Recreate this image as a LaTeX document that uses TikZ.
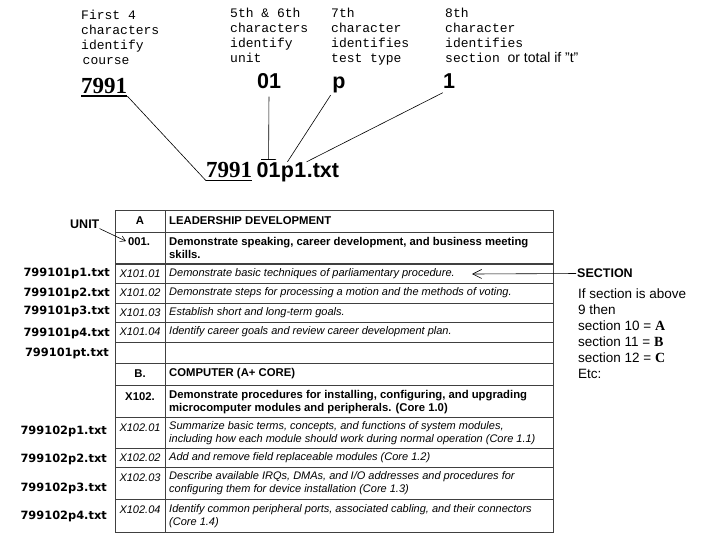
\documentclass[tikz,border=0pt]{standalone}
\usepackage{fontspec}
\setmainfont{Liberation Serif}
\setsansfont{Liberation Sans}
\setmonofont{Liberation Mono}
\newfontfamily\dejavu{DejaVu Sans}
\usetikzlibrary{arrows.meta,positioning}

\begin{document}
\begin{tikzpicture}[x=1pt,y=-1pt,
  hint/.style={font=\ttfamily\fontsize{13}{15}\selectfont,align=left,anchor=north west,inner sep=0pt},
  digits/.style={font=\sffamily\bfseries\fontsize{21.5}{21.5}\selectfont,inner sep=0pt,text height=15.5pt,text depth=4.5pt},
  course/.style={font=\rmfamily\bfseries\fontsize{23}{23}\selectfont,inner xsep=0pt,inner ysep=3pt,text height=16pt,text depth=0pt},
  uline/.style={line width=1.5pt},
  link/.style={line width=0.6pt},
  tablerule/.style={draw=black!75,line width=0.8pt},
  subcode/.style={font=\sffamily\itshape\fontsize{11}{12.5}\selectfont,inner sep=0pt},
  unitcode/.style={font=\sffamily\bfseries\fontsize{11.3}{12.5}\selectfont,inner sep=0pt},
  desc/.style={font=\sffamily\itshape\fontsize{11}{12.5}\selectfont,align=left,anchor=west,inner sep=0pt},
  descb/.style={font=\sffamily\bfseries\fontsize{11.3}{12.5}\selectfont,align=left,anchor=west,inner sep=0pt},
  fname/.style={font=\dejavu\bfseries\fontsize{11.4}{12}\selectfont,anchor=east,inner sep=0pt},
  callout/.style={font=\sffamily\bfseries\fontsize{12.5}{14}\selectfont,inner sep=0pt,anchor=west},
  note/.style={font=\sffamily\fontsize{13.5}{16}\selectfont,align=left,anchor=north west,inner sep=0pt},
  barb/.style={-{Straight Barb[length=9pt,width=9pt]},line width=0.6pt},
  smallbarb/.style={-{Straight Barb[length=5pt,width=6pt]},line width=0.6pt}
]
\fill[white] (0,0) rectangle (703,539);
\useasboundingbox (0,0) rectangle (703,539);

\node[hint] (hcourse) at (81,9.5) {First 4\\characters\\identify\\\hspace{1.5pt}course};
\node[hint] (hunit) at (230,7.5) {5th \& 6th\\characters\\identify\\unit};
\node[hint] (htype) at (331,7.5) {7th\\character\\identifies\\test type};
\node[hint] (hsect) at (445,7.5) {8th\\character\\identifies\\section {\sffamily\fontsize{14}{15}\selectfont or total if "t"}};

\node[course,anchor=base west] (top7991) at (81,93) {7991};
\draw[uline] (top7991.south west) -- (top7991.south east);
\node[digits,anchor=base] (top01) at (269,88) {01};
\node[digits,anchor=base] (topp) at (339,88) {p};
\node[digits,anchor=base] (topone) at (449,88) {1};

\node[course,anchor=base west] (low7991) at (206,177.5) {7991};
\draw[uline] (low7991.south west) -- (low7991.south east);
\node[digits,anchor=base west] (low01) at ([xshift=4pt]low7991.base east) {01};
\node[digits,anchor=base west] (lowp) at (low01.base east) {p};
\node[digits,anchor=base west] (lowone) at (lowp.base east) {1};
\node[digits,anchor=base west] (lowtxt) at (lowone.base east) {.txt};

\draw[link] (top7991.south east) -- (low7991.south west);
\draw[link,-{Bar[width=15pt]},shorten <=4pt,shorten >=2pt] (top01.south) -- (low01.north);
\draw[link,shorten <=3pt] (topp.south west) -- (lowp.north);
\draw[link] (topone.south west) -- (lowone.north east);

\draw[tablerule] (115,210) rectangle (553,532);
\draw[tablerule] (165,210) -- (165,532);
\foreach \y in {232,283,303,322,342,363,385,417,448,467,499}
  \draw[tablerule] (115,\y) -- (553,\y);
\draw[tablerule,line width=1.8pt] (115,264) -- (553,264);

\node[unitcode] (ua) at (140,221) {A};
\node[descb] (ta) at (169,221) {LEADERSHIP DEVELOPMENT};
\node[unitcode] (u001) at (139,242) {001.};
\node[descb] (t001) at (169,248) {Demonstrate speaking, career development, and business meeting\\skills.};
\foreach \c/\y/\t in {01/273.5/{Demonstrate basic techniques of parliamentary procedure.},
    02/293/{Demonstrate steps for processing a motion and the methods of voting.},
    03/312.5/{Establish short and long-term goals.},
    04/332/{Identify career goals and review career development plan.}} {
  \node[subcode] (c101\c) at (140,\y) {X101.\c};
  \node[desc] (d101\c) at (169,\y) {\t};
}
\node[unitcode] (ub) at (140,374) {B.};
\node[descb] (tb) at (169,374) {COMPUTER (A+ CORE)};
\node[unitcode] (u102) at (140,397) {X102.};
\node[descb] (t102) at (169,402) {Demonstrate procedures for installing, configuring, and upgrading\\microcomputer modules and peripherals. (Core 1.0)};
\foreach \c/\yc/\y/\t in {01/428/433/{Summarize basic terms, concepts, and functions of system modules,\\including how each module should work during normal operation (Core 1.1)},
    02/458/458/{Add and remove field replaceable modules (Core 1.2)},
    03/477.5/483/{Describe available IRQs, DMAs, and I/O addresses and procedures for\\configuring them for device installation (Core 1.3)},
    04/510/516/{Identify common peripheral ports, associated cabling, and their connectors\\(Core 1.4)}} {
  \node[subcode] (c102\c) at (140,\yc) {X102.\c};
  \node[desc] (d102\c) at (169,\y) {\t};
}

\foreach \n/\y in {1/273,2/293,3/311.5,4/333}
  \node[fname] (f101p\n) at (110,\y) {799101p\n.txt};
\node[fname] (f101pt) at (109,353) {799101pt.txt};
\foreach \n/\y in {1/431,2/459,3/488,4/516}
  \node[fname] (f102p\n) at (107,\y) {799102p\n.txt};

\node[callout] (unit) at (70,224) {UNIT};
\draw[smallbarb,shorten >=2pt] (unit.south east) -- (u001.west);
\node[callout] (section) at (577,273.5) {SECTION};
\coordinate (sectip) at (472,274);
\draw[barb,shorten <=1pt] (section.west) -- (sectip);

\node[note] (rule) at (578,289) {If section is above\\9 then\\section 10 = {\rmfamily\bfseries\fontsize{14}{16}\selectfont A}\\section 11 = {\rmfamily\bfseries\fontsize{14}{16}\selectfont B}\\section 12 = {\rmfamily\bfseries\fontsize{14}{16}\selectfont C}\\Etc:};
\end{tikzpicture}
\end{document}
